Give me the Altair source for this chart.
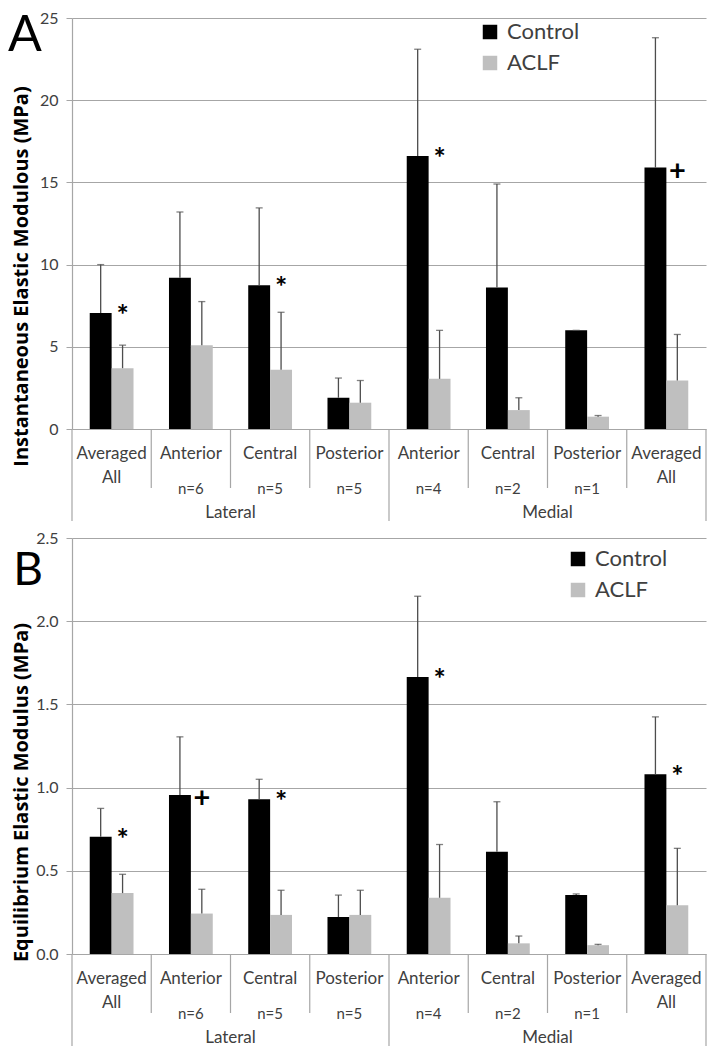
import altair as alt
import pandas as pd

# ---------------- data ----------------
cat_keys = ["L-Avg", "L-Ant", "L-Cen", "L-Post", "M-Ant", "M-Cen", "M-Post", "M-Avg"]
cat_labels = ["Averaged\nAll", "Anterior", "Central", "Posterior",
              "Anterior", "Central", "Posterior", "Averaged\nAll"]
cat_n = ["", "n=6", "n=5", "n=5", "n=4", "n=2", "n=1", ""]
cat_group = ["Lateral"] * 4 + ["Medial"] * 4
series = ["Control", "ACLF"]

# Panel A: Instantaneous elastic modulus (MPa)
inst_control = [7.05, 9.2, 8.75, 1.9, 16.6, 8.6, 6.0, 15.9]
inst_control_sd = [2.95, 4.0, 4.7, 1.2, 6.5, 6.3, 0.0, 7.9]
inst_aclf = [3.7, 5.1, 3.6, 1.6, 3.05, 1.15, 0.75, 2.95]
inst_aclf_sd = [1.4, 2.65, 3.5, 1.35, 2.95, 0.75, 0.07, 2.8]
inst_marks = ["*", "", "*", "", "*", "", "", "+"]

# Panel B: Equilibrium elastic modulus (MPa)
eq_control = [0.705, 0.955, 0.93, 0.222, 1.665, 0.615, 0.355, 1.08]
eq_control_sd = [0.17, 0.35, 0.12, 0.132, 0.485, 0.30, 0.006, 0.345]
eq_aclf = [0.366, 0.243, 0.235, 0.235, 0.338, 0.064, 0.053, 0.293]
eq_aclf_sd = [0.113, 0.146, 0.148, 0.148, 0.32, 0.044, 0.005, 0.342]
eq_marks = ["*", "+", "*", "", "*", "", "", "*"]

FONT = "Lato"
TITLE_FONT = "Open Sans"
GRID = "#a6a6a6"
TEXT = "#404040"


def panel(ctrl, ctrl_sd, aclf, aclf_sd, marks, ymax, yvals, yfmt, ytitle,
          letter, width, height, legend_x, legend_y, title_y, letter_x, letter_y,
          letter_size):
    rows = []
    for i, k in enumerate(cat_keys):
        rows.append({"key": k, "series": "Control", "value": ctrl[i], "upper": ctrl[i] + ctrl_sd[i]})
        rows.append({"key": k, "series": "ACLF", "value": aclf[i], "upper": aclf[i] + aclf_sd[i]})
    df = pd.DataFrame(rows)

    ann = pd.DataFrame([{"key": k, "series": "ACLF", "value": ctrl[i], "mark": marks[i]}
                        for i, k in enumerate(cat_keys) if marks[i]])

    labels = pd.DataFrame({"key": cat_keys, "label": cat_labels, "n": cat_n})

    groups = []
    for g in dict.fromkeys(cat_group):
        idx = [i for i, c in enumerate(cat_group) if c == g]
        groups.append({"key": cat_keys[idx[0] + len(idx) // 2], "group": g})
    groups = pd.DataFrame(groups)

    inner = pd.DataFrame({"key": [k for i, k in enumerate(cat_keys)
                                  if i > 0 and cat_group[i] == cat_group[i - 1]]})
    outer_left = pd.DataFrame({"key": [k for i, k in enumerate(cat_keys)
                                       if i == 0 or cat_group[i] != cat_group[i - 1]]})
    outer_right = pd.DataFrame({"key": [cat_keys[-1]]})

    xscale = alt.Scale(domain=cat_keys, paddingInner=0, paddingOuter=0)
    X = alt.X("key:N", scale=xscale, axis=None)
    XO = alt.XOffset("series:N", scale=alt.Scale(domain=series, paddingInner=0, paddingOuter=0.81))
    yaxis = alt.Axis(values=yvals, format=yfmt, grid=True, gridColor=GRID, gridWidth=1.2,
                     domainColor=GRID, domainWidth=1.2, tickColor=GRID, tickSize=6,
                     labelPadding=8, labelFontSize=16, labelColor=TEXT, labelFont=FONT,
                     title=ytitle, titleFont=TITLE_FONT, titleFontSize=20, titleFontWeight="bold",
                     titleColor="#000000", titleX=-51, titleY=title_y, titleAngle=270,
                     titleAlign="center", titleBaseline="middle")
    yscale = alt.Scale(domain=[0, ymax], nice=False)

    def Y(field):
        return alt.Y(f"{field}:Q", scale=yscale, axis=yaxis)

    bars = alt.Chart(df).mark_bar().encode(
        x=X, xOffset=XO, y=Y("value"),
        color=alt.Color("series:N", scale=alt.Scale(domain=series, range=["#000000", "#bfbfbf"]),
                        legend=alt.Legend(title=None, orient="none", legendX=legend_x, legendY=legend_y,
                                          symbolType="square", symbolSize=210, symbolStrokeWidth=0,
                                          labelFont=FONT, labelFontSize=22, labelColor=TEXT,
                                          rowPadding=9, labelOffset=6)),
    )
    err = alt.Chart(df).mark_rule(color="#4d4d4d", strokeWidth=1.3).encode(
        x=X, xOffset=XO, y=Y("value"), y2="upper:Q")
    cap = alt.Chart(df).mark_tick(color="#4d4d4d", thickness=1.3, size=7).encode(
        x=X, xOffset=XO, y=Y("upper"))
    stars = alt.Chart(ann).mark_text(font=FONT, fontSize=29, fontWeight="bold", color="#000000",
                                     baseline="middle", dy=3).encode(
        x=X, xOffset=XO, y=Y("value"), text="mark:N")

    catlab = alt.Chart(labels).mark_text(font=FONT, fontSize=17, color=TEXT, lineBreak="\n",
                                         lineHeight=24, baseline="middle").encode(
        x=X, y=alt.value(height + 25), text="label:N")
    nlab = alt.Chart(labels).mark_text(font=FONT, fontSize=15, color=TEXT, baseline="middle").encode(
        x=X, y=alt.value(height + 60), text="n:N")
    glab = alt.Chart(groups).mark_text(font=FONT, fontSize=17, color=TEXT, baseline="middle").encode(
        x=alt.X("key:N", scale=xscale, axis=None, bandPosition=0),
        y=alt.value(height + 84), text="group:N")

    sep_in = alt.Chart(inner).mark_rule(color=GRID, strokeWidth=1.2).encode(
        x=alt.X("key:N", scale=xscale, axis=None, bandPosition=0),
        y=alt.value(height), y2=alt.value(height + 59))
    sep_l = alt.Chart(outer_left).mark_rule(color=GRID, strokeWidth=1.2).encode(
        x=alt.X("key:N", scale=xscale, axis=None, bandPosition=0),
        y=alt.value(height), y2=alt.value(height + 92))
    sep_r = alt.Chart(outer_right).mark_rule(color=GRID, strokeWidth=1.2).encode(
        x=alt.X("key:N", scale=xscale, axis=None, bandPosition=1),
        y=alt.value(height), y2=alt.value(height + 92))

    let = alt.Chart(pd.DataFrame({"t": [letter]})).mark_text(
        font=FONT, fontSize=letter_size, color="#000000", align="center", baseline="alphabetic").encode(
        x=alt.value(letter_x), y=alt.value(letter_y), text="t:N")

    return alt.layer(bars, err, cap, stars, catlab, nlab, glab, sep_in, sep_l, sep_r, let).properties(
        width=width, height=height)


top = panel(inst_control, inst_control_sd, inst_aclf, inst_aclf_sd, inst_marks,
            25, [0, 5, 10, 15, 20, 25], "d",
            "Instantaneous  Elastic  Modulous  (MPa)", "A",
            634, 411, 407, 3, 258, -47, 33, 50)
bottom = panel(eq_control, eq_control_sd, eq_aclf, eq_aclf_sd, eq_marks,
               2.5, [0, 0.5, 1.0, 1.5, 2.0, 2.5], ".1f",
               "Equilibrium  Elastic  Modulus  (MPa)", "B",
               634, 416, 495, 10, 254, -44, 47, 46)

chart = alt.vconcat(top, bottom, spacing=8).resolve_scale(
    x="independent", y="independent", color="independent", xOffset="independent"
).resolve_legend(color="independent").configure_view(stroke=None).properties(
    padding={"left": 0, "top": 2, "right": 0, "bottom": 0}, background="white")

chart.save("out.html", embed_options={"renderer": "svg", "actions": False})
